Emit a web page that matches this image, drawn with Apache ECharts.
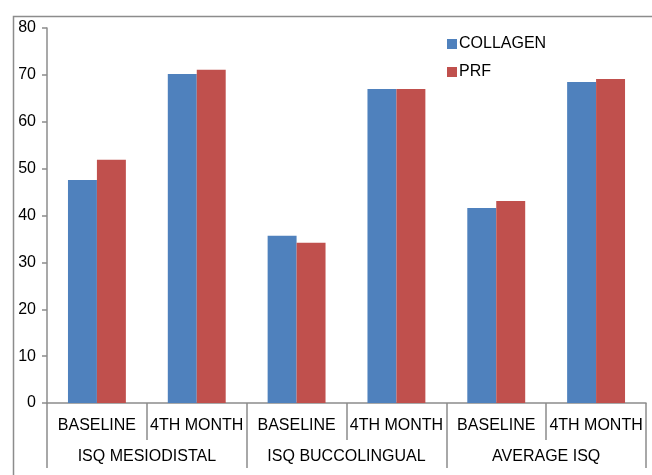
<!DOCTYPE html>
<html>
<head>
<meta charset="utf-8">
<script src="https://cdn.jsdelivr.net/npm/echarts@6/dist/echarts.min.js"></script>
<style>html,body{margin:0;padding:0;background:#fff}#c{width:652px;height:475px}</style>
</head>
<body>
<div id="c"></div>
<script>
var subCategories = ['BASELINE', '4TH MONTH', 'BASELINE', '4TH MONTH', 'BASELINE', '4TH MONTH'];
var groupCategories = ['ISQ MESIODISTAL', 'ISQ BUCCOLINGUAL', 'AVERAGE ISQ'];
var collagen = [47.6, 70.2, 35.7, 67.0, 41.6, 68.5];
var prf = [51.9, 71.1, 34.2, 67.0, 43.1, 69.1];
var seriesNames = ['COLLAGEN', 'PRF'];

var chart = echarts.init(document.getElementById('c'), null, {renderer: 'canvas'});
var font = 'Liberation Sans, Arial, sans-serif';
chart.setOption({
  animation: false,
  textStyle: {fontFamily: font},
  graphic: [{
    type: 'rect', left: 11, top: 14, silent: true,
    shape: {width: 700, height: 500},
    style: {fill: 'none', stroke: '#8c8c8c', lineWidth: 1.5}
  }],
  legend: {
    orient: 'vertical', left: 442, top: 31, itemGap: 12,
    icon: 'rect', itemWidth: 10, itemHeight: 10,
    textStyle: {fontSize: 16, color: '#000', fontFamily: font, padding: [0, 0, 0, -3]},
    data: seriesNames
  },
  grid: {left: 47, right: 6, top: 28, bottom: 72, containLabel: false},
  xAxis: [{
    type: 'category', data: subCategories, position: 'bottom',
    axisLine: {show: true, lineStyle: {color: '#8c8c8c', width: 1.5}},
    axisTick: {show: true, interval: 0, length: 37, lineStyle: {color: '#8c8c8c', width: 1.5}},
    axisLabel: {interval: 0, fontSize: 16, color: '#000', margin: 15, fontFamily: font}
  }, {
    type: 'category', data: groupCategories, position: 'bottom', offset: 0,
    axisLine: {show: false},
    axisTick: {show: true, interval: 0, length: 65, lineStyle: {color: '#8c8c8c', width: 1.5}},
    axisLabel: {interval: 0, fontSize: 16, color: '#000', margin: 46, fontFamily: font}
  }],
  yAxis: {
    type: 'value', min: 0, max: 80, interval: 10,
    axisLine: {show: true, lineStyle: {color: '#8c8c8c', width: 1.5}},
    axisTick: {show: true, length: 5, lineStyle: {color: '#8c8c8c', width: 1.5}},
    splitLine: {show: false},
    axisLabel: {fontSize: 16, color: '#000', margin: 11, fontFamily: font}
  },
  series: [{
    name: seriesNames[0], type: 'bar', data: collagen, xAxisIndex: 0,
    barGap: '0%', barCategoryGap: '42%', itemStyle: {color: '#4F81BD'}
  }, {
    name: seriesNames[1], type: 'bar', data: prf, xAxisIndex: 0,
    barGap: '0%', barCategoryGap: '42%', itemStyle: {color: '#C0504D'}
  }]
});
</script>
</body>
</html>
